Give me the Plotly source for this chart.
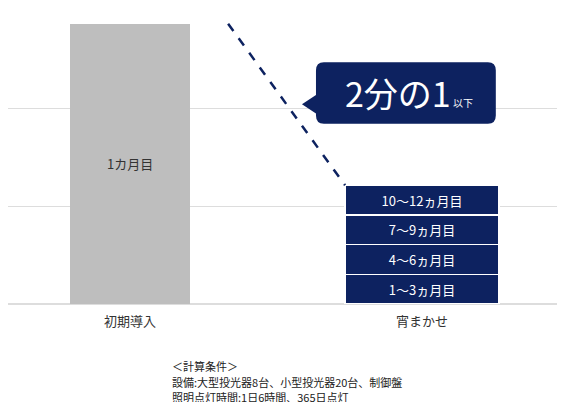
import plotly.graph_objects as go

categories = ["初期導入", "宵まかせ"]
before_value = 2.87
before_label = "1カ月目"
after_segments = ["1〜3ヵ月目", "4〜6ヵ月目", "7〜9ヵ月目", "10〜12ヵ月目"]
after_values = [0.304, 0.304, 0.304, 0.304]
callout_text = "2分の1"
callout_small = "以下"
note_lines = ["＜計算条件＞", "設備:大型投光器8台、小型投光器20台、制御盤", "照明点灯時間:1日6時間、365日点灯"]

navy = "#0d2260"
font = "Noto Sans CJK JP, Noto Sans, sans-serif"

fig = go.Figure()

fig.add_trace(go.Bar(
    x=[0], y=[before_value], width=0.414,
    marker=dict(color="#bebebe", line=dict(width=0)),
    text=[before_label], textposition="inside", insidetextanchor="middle",
    textfont=dict(color="#333333", size=13), hoverinfo="skip",
))

for label, val in zip(after_segments, after_values):
    fig.add_trace(go.Bar(
        x=[1], y=[val], width=0.527,
        marker=dict(color=navy, line=dict(color="white", width=1.5)),
        text=[label], textposition="inside", insidetextanchor="middle",
        textfont=dict(color="white", size=13), hoverinfo="skip",
    ))

after_total = sum(after_values)
# dashed connector between the two bars
fig.add_trace(go.Scatter(
    x=[0.336, 1 - 0.527 / 2], y=[before_value, after_total],
    mode="lines", line=dict(color=navy, width=2.5, dash="dash"), hoverinfo="skip",
))

# callout bubble
x0, x1, y0, y1 = 0.637, 1.253, 1.846, 2.476
rx, ry = 0.027, 0.084
path = (f"M {x0+rx},{y1} L {x1-rx},{y1} Q {x1},{y1} {x1},{y1-ry} "
        f"L {x1},{y0+ry} Q {x1},{y0} {x1-rx},{y0} L {x0+rx},{y0} "
        f"Q {x0},{y0} {x0},{y0+ry} L {x0},1.95 L 0.589,2.045 L {x0},2.14 "
        f"L {x0},{y1-ry} Q {x0},{y1} {x0+rx},{y1} Z")
fig.add_shape(type="path", path=path, fillcolor=navy, line=dict(width=0), layer="above")
fig.add_annotation(
    x=(x0 + x1) / 2 + 0.01, y=(y0 + y1) / 2, xref="x", yref="y", showarrow=False,
    text=f"<span style='font-size:34px'>{callout_text}</span><span style='font-size:10px'> {callout_small}</span>",
    font=dict(color="white", family=font),
)

# footnote, one annotation per line
for i, line in enumerate(note_lines):
    fig.add_annotation(
        x=(170 - 8) / 557, y=(296 - 347 - i * 15) / 286, xref="paper", yref="paper",
        showarrow=False, text=line, xanchor="left", yanchor="top",
        font=dict(size=11, color="#222222"),
    )

fig.update_layout(
    width=557, height=394, margin=dict(l=0, r=0, t=2, b=98),
    plot_bgcolor="white", paper_bgcolor="white", showlegend=False,
    barmode="stack", font=dict(family=font, color="#333333"),
    uniformtext=dict(mode="show", minsize=10),
)
fig.update_xaxes(
    range=[-0.418, 1.49], tickvals=[0, 1], ticktext=categories,
    tickfont=dict(size=13, color="#333333"), showgrid=False, zeroline=False,
    ticks="", ticklabelstandoff=8,
)
fig.update_yaxes(
    range=[0, 3.01], dtick=1, showticklabels=False, gridcolor="#dddddd",
    zeroline=True, zerolinecolor="#dddddd", showline=False,
)

fig.write_html("out.html")
